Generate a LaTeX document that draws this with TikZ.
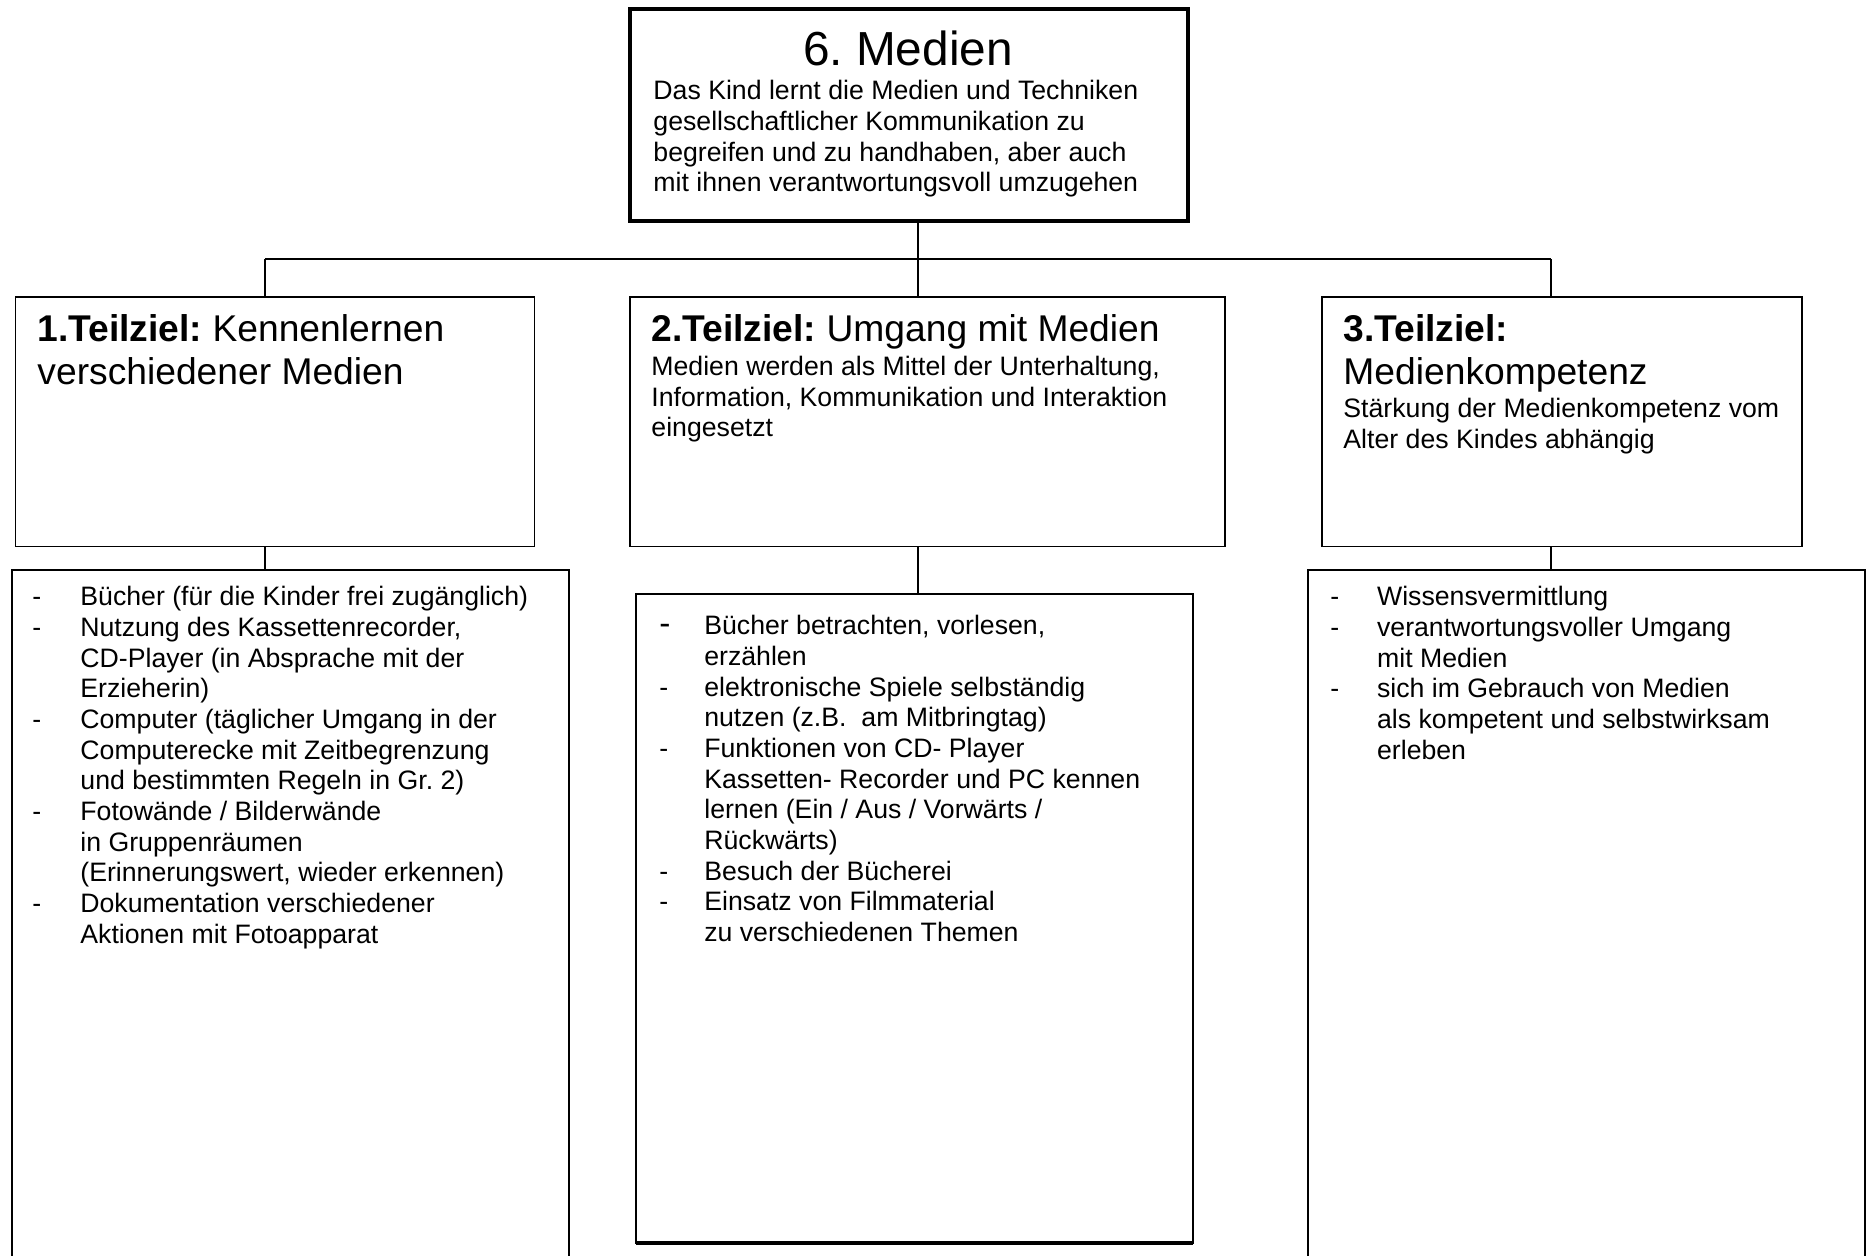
\documentclass[tikz,border=0pt]{standalone}
\usepackage{fontspec}
\setmainfont{Liberation Sans}
\usetikzlibrary{fit}
\frenchspacing

\tikzset{
  kasten/.style={draw, line width=0.8pt, inner sep=0pt, outer sep=0pt},
  hauptkasten/.style={kasten, line width=1.8pt},
  linie/.style={line width=0.7pt},
  schiene/.style={line width=1.1pt},
  titel/.style={inner sep=0pt, anchor=base, font=\fontsize{21.5}{24.7}\selectfont},
  kopf/.style={inner sep=0pt, anchor=base west, font=\fontsize{16.75}{19.35}\selectfont},
  fliess/.style={inner sep=0pt, anchor=base west, font=\fontsize{12}{13.8}\selectfont},
}

\begin{document}
\begin{tikzpicture}[x=0.45pt, y=-0.45pt]
  \useasboundingbox (0,0) rectangle (1871,1256);
  \clip (0,0) rectangle (1871,1256);

  % Kaesten
  \node[hauptkasten, fit={(630,9.5) (1188,221)}] (medien) {};
  \node[kasten, fit={(15.5,297) (534.5,546.5)}] (ziel1) {};
  \node[kasten, fit={(630,297) (1225,546.5)}] (ziel2) {};
  \node[kasten, fit={(1322,297) (1802,546.5)}] (ziel3) {};
  \node[kasten, fit={(12,570) (569,1275)}] (liste1) {};
  \node[kasten, fit={(636,594) (1193,1243)}] (liste2) {};
  \node[kasten, fit={(1308,570) (1865,1275)}] (liste3) {};
  \draw[line width=1.4pt] (liste2.south west) -- (liste2.south east);

  % Verbindungen
  \coordinate (c1) at (265,0);
  \coordinate (c2) at (918,0);
  \coordinate (c3) at (1551,0);
  \coordinate (bus) at (0,259);

  \draw[schiene] (c1 |- bus) -- (c3 |- bus);
  \draw[linie] (medien.south -| c2) -- (ziel2.north -| c2);
  \draw[linie] (c1 |- bus) -- (ziel1.north -| c1);
  \draw[linie] (c3 |- bus) -- (ziel3.north -| c3);
  \draw[linie] (ziel1.south -| c1) -- (liste1.north -| c1);
  \draw[linie] (ziel2.south -| c2) -- (liste2.north -| c2);
  \draw[linie] (ziel3.south -| c3) -- (liste3.north -| c3);

  % Texte oben
  \node[titel] (titel) at (908,66) {6. Medien};
  \node[fliess] (leitziel) at (653,100) {\begin{tabular}[t]{@{}l@{}}
    Das Kind lernt die Medien und Techniken\\
    gesellschaftlicher Kommunikation zu\\
    begreifen und zu handhaben, aber auch\\
    mit ihnen verantwortungsvoll umzugehen\end{tabular}};

  % Teilziele
  \node[kopf] (kopf1) at (37,342) {\begin{tabular}[t]{@{}l@{}}
    \textbf{1.Teilziel:} Kennenlernen\\
    verschiedener Medien\end{tabular}};
  \node[kopf] (kopf2) at (651,342) {\textbf{2.Teilziel:} Umgang mit Medien};
  \node[fliess] (info2) at (651,375.5) {\begin{tabular}[t]{@{}l@{}}
    Medien werden als Mittel der Unterhaltung,\\
    Information, Kommunikation und Interaktion\\
    eingesetzt\end{tabular}};
  \node[kopf] (kopf3) at (1343,342) {\begin{tabular}[t]{@{}l@{}}
    \textbf{3.Teilziel:}\\
    Medienkompetenz\end{tabular}};
  \node[fliess] (info3) at (1343,418) {\begin{tabular}[t]{@{}l@{}}
    Stärkung der Medienkompetenz vom\\
    Alter des Kindes abhängig\end{tabular}};

  % Listen
  \node[fliess] (punkte1) at (32,606) {\begin{tabular}[t]{@{}p{21.6pt}@{}l@{}}
    - & Bücher (für die Kinder frei zugänglich)\\
    - & Nutzung des Kassettenrecorder,\\
      & CD-Player (in Absprache mit der\\
      & Erzieherin)\\
    - & Computer (täglicher Umgang in der\\
      & Computerecke mit Zeitbegrenzung\\
      & und bestimmten Regeln in Gr. 2)\\
    - & Fotowände / Bilderwände\\
      & in Gruppenräumen\\
      & (Erinnerungswert, wieder erkennen)\\
    - & Dokumentation verschiedener\\
      & Aktionen mit Fotoapparat\end{tabular}};
  \node[fliess] (punkte2) at (659,635) {\begin{tabular}[t]{@{}p{20.2pt}@{}l@{}}
    {\fontsize{15}{15}\selectfont -} & Bücher betrachten, vorlesen,\\
      & erzählen\\
    - & elektronische Spiele selbständig\\
      & nutzen (z.B.~ am Mitbringtag)\\
    - & Funktionen von CD- Player\\
      & Kassetten- Recorder und PC kennen\\
      & lernen (Ein / Aus / Vorwärts /\\
      & Rückwärts)\\
    - & Besuch der Bücherei\\
    - & Einsatz von Filmmaterial\\
      & zu verschiedenen Themen\end{tabular}};
  \node[fliess] (punkte3) at (1330,606) {\begin{tabular}[t]{@{}p{21pt}@{}l@{}}
    - & Wissensvermittlung\\
    - & verantwortungsvoller Umgang\\
      & mit Medien\\
    - & sich im Gebrauch von Medien\\
      & als kompetent und selbstwirksam\\
      & erleben\end{tabular}};
\end{tikzpicture}
\end{document}
